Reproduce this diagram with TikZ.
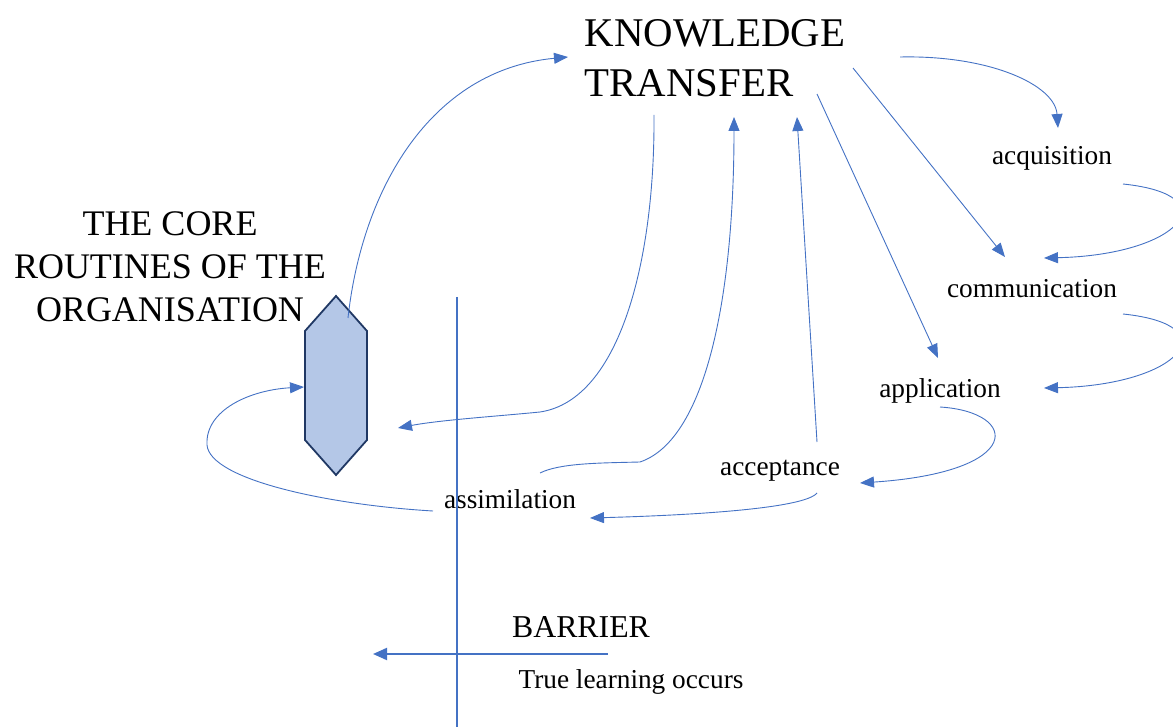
\documentclass[tikz,border=0pt]{standalone}
\usepackage{fontspec}
\setmainfont{Liberation Serif}
\usetikzlibrary{arrows.meta}
\definecolor{linkblue}{HTML}{4472C4}
\definecolor{hexfill}{HTML}{B4C7E7}
\definecolor{hexedge}{HTML}{203864}
\begin{document}
\begin{tikzpicture}[x=1pt,y=-1pt,
  flow/.style={draw=linkblue,line width=0.9pt,-{Triangle[length=14pt,width=11pt]}},
  flowplain/.style={draw=linkblue,line width=0.9pt},
  barrierline/.style={draw=linkblue,line width=2pt},
  stagetext/.style={inner sep=0pt,anchor=base,font=\fontsize{27.3}{32}\selectfont},
  headtext/.style={inner sep=0pt,font=\fontsize{40.8}{50}\selectfont,align=left},
  coretext/.style={inner sep=0pt,font=\fontsize{36}{43}\selectfont,align=center}]
\useasboundingbox (0,0) rectangle (1173,727);
\clip (0,0) rectangle (1173,727);

% titles
\node[headtext] (kt) at (715,58.5) {KNOWLEDGE\\TRANSFER};
\node[coretext] (core) at (170,267) {THE CORE\\ROUTINES OF THE\\ORGANISATION};

% stages of the transfer
\node[stagetext] (acq) at (1052,165) {acquisition};
\node[stagetext] (com) at (1032,298) {communication};
\node[stagetext] (app) at (940,397) {application};
\node[stagetext] (acc) at (780,475) {acceptance};
\node[stagetext] (ass) at (510,508) {assimilation};
\node[stagetext,font=\fontsize{31.8}{38}\selectfont] (bar) at (581,637) {BARRIER};
\node[stagetext] (tlo) at (631,688) {True learning occurs};

% the organisation's routines
\draw[fill=hexfill,draw=hexedge,line width=1.8pt,line join=miter]
  (336,296) coordinate (hexN) -- (367,331) -- (367,440) -- (336,475)
  -- (305,440) -- (305,331) -- cycle;
\coordinate (hexOut) at (348,318);
\coordinate (hexIn) at (304,387);
\coordinate (hexNear) at (398,428);

% attachment points
\coordinate (ktW) at (568,57);
\coordinate (ktS1) at (654,115);
\coordinate (ktS2) at (734,117);
\coordinate (ktS3) at (797,117);
\coordinate (ktSE1) at (817,94);
\coordinate (ktSE2) at (853,68);
\coordinate (ktE) at (900,57);
\coordinate (acqN) at (1058,128);
\coordinate (acqE) at (1123,184);
\coordinate (comNW) at (1005,257);
\coordinate (comNE) at (1044,258);
\coordinate (comE) at (1123,314);
\coordinate (appN) at (938,358);
\coordinate (appE) at (1044,388);
\coordinate (appS) at (940,407);
\coordinate (accN) at (817,442);
\coordinate (accE) at (860,483);
\coordinate (accS) at (817,493);
\coordinate (assNE) at (540,473);
\coordinate (assE) at (590,518);
\coordinate (assW) at (433,511);

% connectors
\draw[flow] (hexOut) .. controls (362,190) and (430,70) .. (ktW);
\draw[flow] (ktE) .. controls (990,55) and (1055,85) .. (acqN);
\draw[flow] (ktSE2) -- (comNW);
\draw[flow] (ktSE1) -- (appN);
\draw[flow] (acqE) .. controls (1230,195) and (1180,255) .. (comNE);
\draw[flow] (comE) .. controls (1230,325) and (1180,385) .. (appE);
\draw[flow] (appS) .. controls (1020,412) and (1025,472) .. (accE);
\draw[flow] (accS) .. controls (805,508) and (700,515) .. (assE);
\draw[flow] (accN) -- (ktS3);
\draw[flow] (assNE) .. controls (560,463) and (600,463) .. (640,462)
  .. controls (705,440) and (734,300) .. (ktS2);
\draw[flow] (ktS1) .. controls (655,260) and (620,400) .. (540,412)
  .. controls (500,416) and (440,420) .. (hexNear);
\draw[flow] (assW) .. controls (330,505) and (210,480) .. (207,445)
  .. controls (205,410) and (250,390) .. (hexIn);

% barrier
\coordinate (barTop) at (457,297);
\coordinate (barBot) at (457,727);
\coordinate (arrR) at (608,654);
\coordinate (arrL) at (373,654);
\draw[barrierline] (barTop) -- (barBot);
\draw[barrierline,-{Triangle[length=14pt,width=12pt]}] (arrR) -- (arrL);
\end{tikzpicture}
\end{document}
